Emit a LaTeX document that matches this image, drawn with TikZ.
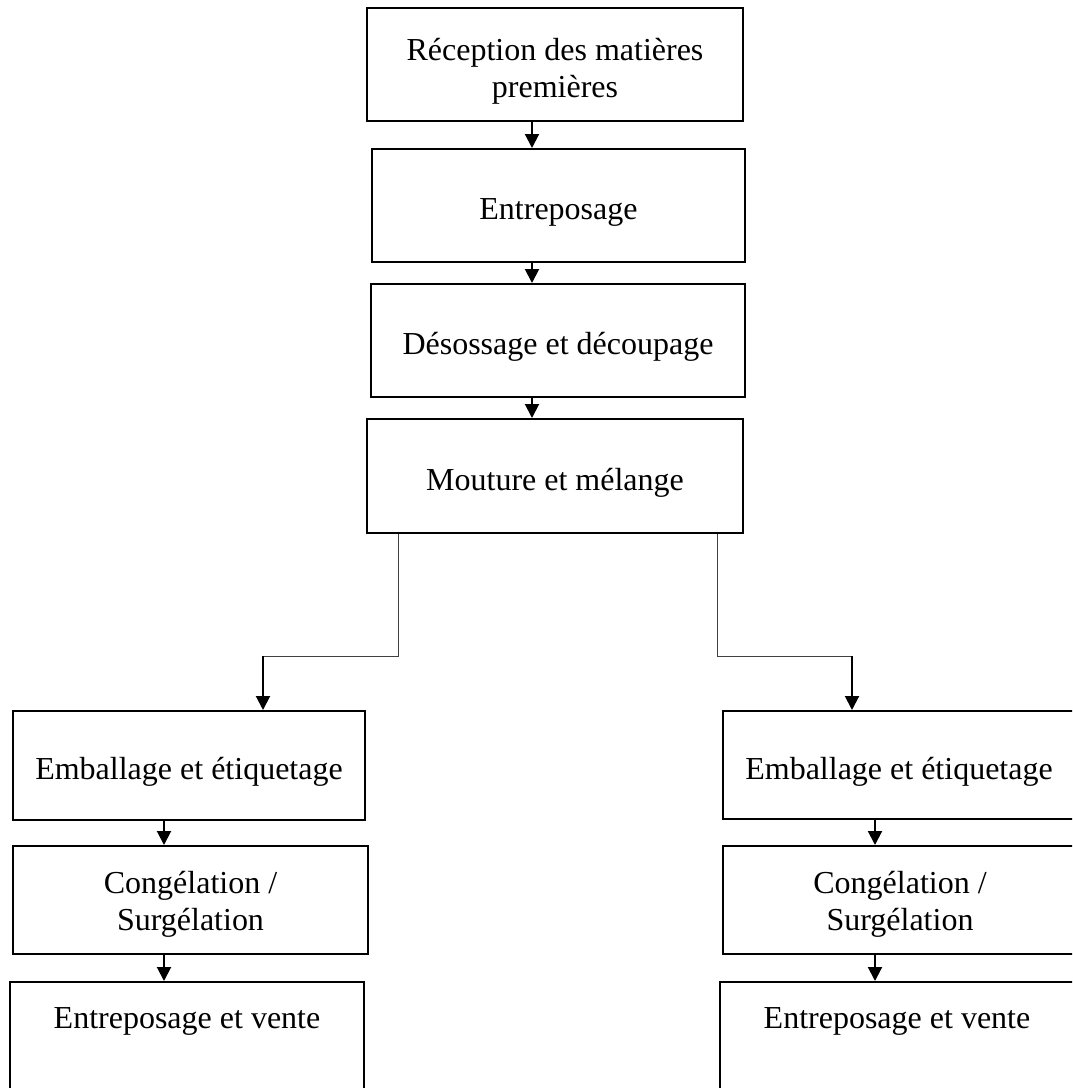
\documentclass[tikz,border=0pt]{standalone}
\usepackage{fontspec}
\setmainfont{Liberation Serif}
\usetikzlibrary{arrows.meta}
\begin{document}
\begin{tikzpicture}[x=0.5pt,y=-0.5pt,
  stage/.style={draw,line width=1pt,inner sep=0pt,align=center,text height=17.5pt,font=\fontsize{16}{18.5}\selectfont},
  arr/.style={line width=1pt,-{Triangle[width=7pt,length=7pt]}},
  fork/.style={line width=0.5pt,black!75}]
\useasboundingbox (0,0) rectangle (1072,1088);
\clip (0,0) rectangle (1072,1088);
% main line
\node[stage,text height=36.5pt,minimum width=188pt,minimum height=56.5pt] (recep) at (555,64.5) {Réception des matières\\premières};
\node[stage,minimum width=186.5pt,minimum height=56.5pt] (entre) at (558.5,205.5) {Entreposage};
\node[stage,minimum width=187pt,minimum height=56.5pt] (desos) at (558,340.5) {Désossage et découpage};
\node[stage,minimum width=188pt,minimum height=57pt] (mout) at (555,476) {Mouture et mélange};
% left branch
\node[stage,minimum width=176pt,minimum height=54.5pt] (embL) at (189,765.5) {Emballage et étiquetage};
\node[stage,text height=33.5pt,minimum width=177.5pt,minimum height=54pt] (congL) at (190.5,900) {Congélation /\\Surgélation};
\node[stage,minimum width=177pt,text height=23pt,text depth=42pt,anchor=north] (venteL) at (187,981) {Entreposage et vente};
% right branch
\node[stage,minimum width=176pt,minimum height=54pt] (embR) at (899,765) {Emballage et étiquetage};
\node[stage,text height=33.5pt,minimum width=177pt,minimum height=54pt] (congR) at (900,900) {Congélation /\\Surgélation};
\node[stage,minimum width=177pt,text height=23pt,text depth=42pt,anchor=north] (venteR) at (897,981) {Entreposage et vente};
% arrows
\coordinate (spine) at (532,0);
\coordinate (colL) at (164,0);
\coordinate (colR) at (875,0);
\foreach \a/\b in {recep/entre,entre/desos,desos/mout}
  \draw[arr] (\a.south -| spine) -- (\b.north -| spine);
\foreach \a/\b in {embL/congL,congL/venteL}
  \draw[arr] (\a.south -| colL) -- (\b.north -| colL);
\foreach \a/\b in {embR/congR,congR/venteR}
  \draw[arr] (\a.south -| colR) -- (\b.north -| colR);
% fork
\coordinate (legL) at (398,0);
\coordinate (legR) at (717,0);
\coordinate (forkL) at (263,656);
\coordinate (forkR) at (852,656);
\draw[fork] (mout.south -| legL) |- (forkL);
\draw[fork] (mout.south -| legR) |- (forkR);
\draw[arr] (forkL) -- (embL.north -| forkL);
\draw[arr] (forkR) -- (embR.north -| forkR);
\end{tikzpicture}
\end{document}
